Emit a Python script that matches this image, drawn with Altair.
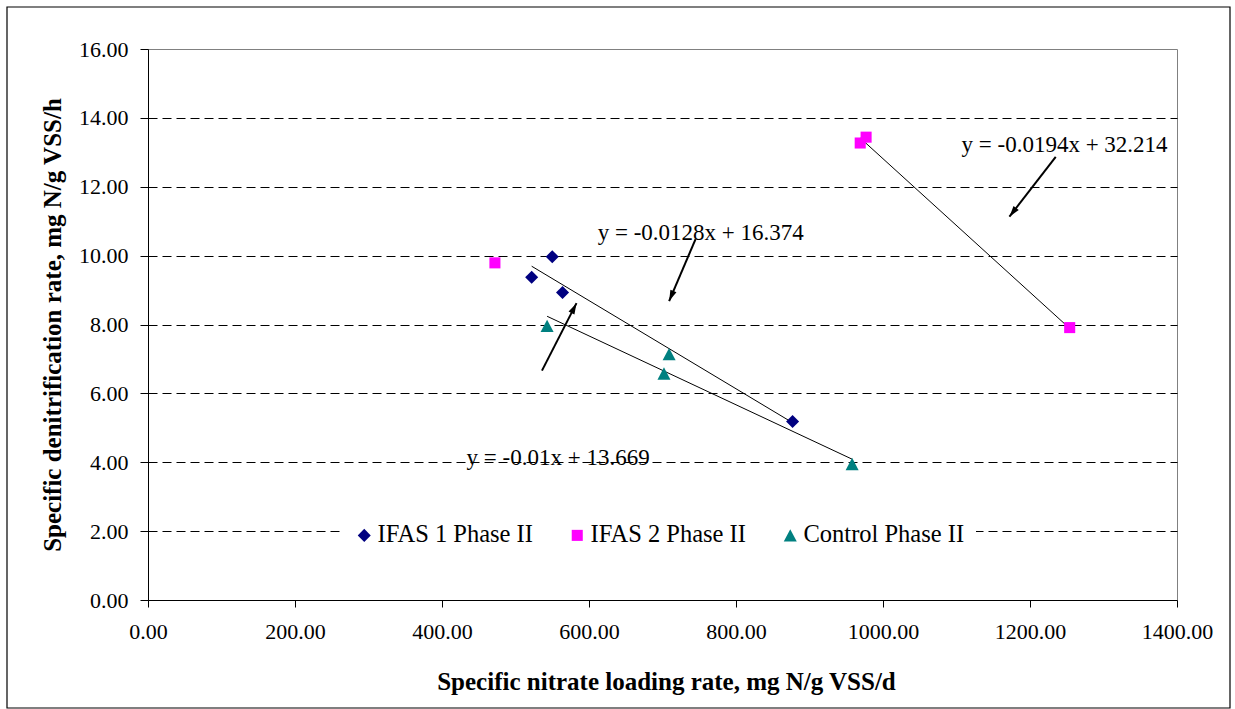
import math
import altair as alt
import pandas as pd

# ---------------- data ----------------
ifas1_x = [550, 522, 564, 877]
ifas1_y = [9.97, 9.37, 8.93, 5.18]
ifas2_x = [472, 969, 977, 1254]
ifas2_y = [9.79, 13.27, 13.44, 7.91]
ctrl_x = [543, 709, 702, 958]
ctrl_y = [7.96, 7.14, 6.58, 3.95]

series_names = ["IFAS 1 Phase II", "IFAS 2 Phase II", "Control Phase II"]
series_colors = ["#000080", "#FF00FF", "#008080"]
# marker outlines (diamond, square, triangle) as unit paths
series_shapes = [
    "M-0.93,0L0,-0.93L0.93,0L0,0.93Z",
    "M-0.79,-0.79L0.79,-0.79L0.79,0.79L-0.79,0.79Z",
    "M0,-0.89L0.93,0.89L-0.93,0.89Z",
]

# linear trendlines (equations shown on the chart) and their x-extent
trend_slope = [-0.0128, -0.0194, -0.01]
trend_intercept = [16.374, 32.214, 13.669]
trend_x_from = [522, 969, 543]
trend_x_to = [877, 1254, 958]

# equation labels (data coordinates)
eq_text = ["y = -0.0128x + 16.374", "y = -0.0194x + 32.214", "y = -0.01x + 13.669"]
eq_x = [752, 1247, 558]
eq_y = [10.66, 13.21, 4.12]

# arrows pointing from labels to trendlines (data coordinates)
arrow_x_from = [745, 536, 1235]
arrow_y_from = [10.48, 6.66, 12.87]
arrow_x_to = [709, 583, 1172]
arrow_y_to = [8.68, 8.62, 11.13]

x_ticks = [0, 200, 400, 600, 800, 1000, 1200, 1400]
y_ticks = [0, 2, 4, 6, 8, 10, 12, 14, 16]

# ---------------- layout ----------------
W, H = 1029, 551
PAD_L, PAD_T = 148, 49
XMAX, YMAX = 1400, 16
FONT = "Liberation Serif"
MARK = 196
px_x = W / XMAX
px_y = H / YMAX

pts = pd.DataFrame({
    "x": ifas1_x + ifas2_x + ctrl_x,
    "y": ifas1_y + ifas2_y + ctrl_y,
    "series": [series_names[0]] * len(ifas1_x)
    + [series_names[1]] * len(ifas2_x)
    + [series_names[2]] * len(ctrl_x),
})

trend = pd.DataFrame({
    "x": trend_x_from,
    "x2": trend_x_to,
    "y": [m * a + b for m, a, b in zip(trend_slope, trend_x_from, trend_intercept)],
    "y2": [m * a + b for m, a, b in zip(trend_slope, trend_x_to, trend_intercept)],
})

labels = pd.DataFrame({"x": eq_x, "y": eq_y, "t": eq_text})

arrows = pd.DataFrame({"x": arrow_x_from, "y": arrow_y_from,
                       "x2": arrow_x_to, "y2": arrow_y_to})

HEAD = 121  # arrowhead symbol size
head_r = math.sqrt(HEAD) / 2
hx, hy, ang = [], [], []
for a, b, c, d in zip(arrow_x_from, arrow_y_from, arrow_x_to, arrow_y_to):
    dxp = (c - a) * px_x
    dyp = -(d - b) * px_y
    L = math.hypot(dxp, dyp)
    ux, uy = dxp / L, dyp / L
    ang.append(math.degrees(math.atan2(dxp, -dyp)) % 360)
    hx.append(c - ux * head_r / px_x)
    hy.append(d + uy * head_r / px_y)
heads = pd.DataFrame({"x": hx, "y": hy, "a": ang})

xscale = alt.Scale(domain=[0, XMAX], nice=False, zero=True)
yscale = alt.Scale(domain=[0, YMAX], nice=False, zero=True)

xaxis = alt.Axis(
    values=x_ticks, format=".2f", title="Specific nitrate loading rate, mg N/g VSS/d",
    grid=False, labelFont=FONT, labelFontSize=22, labelColor="black",
    labelFlush=False, labelOverlap=False, labelPadding=14,
    tickSize=7, tickColor="black", domainColor="black",
    titleFont=FONT, titleFontSize=25, titleFontWeight="bold", titleColor="black",
    titleX=518, titleY=81, titleBaseline="middle", titleAlign="center",
)
yaxis = alt.Axis(
    values=y_ticks, format=".2f", title="Specific denitrification rate, mg N/g VSS/h",
    grid=True, gridColor="black", gridDash=[9, 5], gridWidth=1,
    gridOpacity=alt.condition("datum.value <= 0 || datum.value >= 16", alt.value(0), alt.value(1)),
    labelFont=FONT, labelFontSize=22, labelColor="black",
    labelFlush=False, labelOverlap=False, labelPadding=12,
    tickSize=8, tickColor="black", domainColor="black",
    titleFont=FONT, titleFontSize=25, titleFontWeight="bold", titleColor="black",
    titleX=-96, titleY=H / 2, titleAngle=270, titleBaseline="middle", titleAlign="center",
)

legend = alt.Legend(
    title=None, orient="none", direction="horizontal", legendX=193, legendY=463,
    labelFont=FONT, labelFontSize=24.5, labelColor="black", labelLimit=0,
    symbolSize=MARK, symbolStrokeWidth=0, columnPadding=32, labelOffset=1,
    padding=11, fillColor="white",
)

X = alt.X("x:Q", scale=xscale, axis=xaxis)
Y = alt.Y("y:Q", scale=yscale, axis=yaxis)

border = alt.Chart(pd.DataFrame({"k": [0]})).mark_rect(
    fill=None, stroke="black", strokeWidth=1.2
).encode(
    x=alt.value(7 - PAD_L), x2=alt.value(1230 - PAD_L),
    y=alt.value(7 - PAD_T), y2=alt.value(708 - PAD_T),
)

trend_layer = alt.Chart(trend).mark_rule(color="black", strokeWidth=1).encode(
    x=X, x2="x2:Q", y=Y, y2="y2:Q",
)

arrow_layer = alt.Chart(arrows).mark_rule(color="black", strokeWidth=2).encode(
    x=X, x2="x2:Q", y=Y, y2="y2:Q",
)

head_layer = alt.Chart(heads).mark_point(
    shape="M0,-1L0.6,1L-0.6,1Z", filled=True, color="black", size=HEAD, opacity=1
).encode(
    x=X, y=Y,
    angle=alt.Angle("a:Q", scale=None),
)

points = alt.Chart(pts).mark_point(filled=True, opacity=1, size=MARK).encode(
    x=X, y=Y,
    color=alt.Color("series:N", scale=alt.Scale(domain=series_names, range=series_colors), legend=legend),
    shape=alt.Shape("series:N", scale=alt.Scale(domain=series_names, range=series_shapes), legend=legend),
)

text_layer = alt.Chart(labels).mark_text(
    font=FONT, fontSize=23, color="black", align="center", baseline="middle"
).encode(
    x=X, y=Y, text="t:N",
)

chart = alt.layer(
    trend_layer, arrow_layer, head_layer, points, text_layer, border
).properties(
    width=W, height=H,
    autosize=alt.AutoSizeParams(type="none"),
    padding={"left": PAD_L, "top": PAD_T, "right": 1235 - PAD_L - W, "bottom": 709 - PAD_T - H},
    background="white",
).configure_view(stroke="#808080", strokeWidth=1)

chart.save("out.html", embed_options={"renderer": "svg", "actions": False})
